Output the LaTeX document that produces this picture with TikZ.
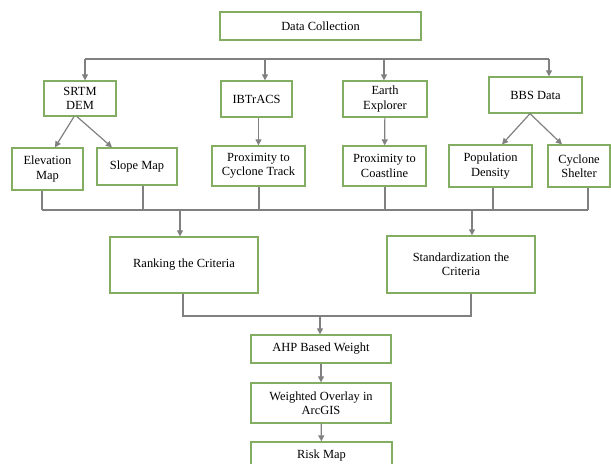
\documentclass[tikz,border=0pt]{standalone}
\usepackage{fontspec}
\setmainfont{Liberation Serif}
\usetikzlibrary{arrows.meta}
\definecolor{boxgreen}{HTML}{82AD62}
\definecolor{linegray}{HTML}{808080}
\tikzset{
  box/.style={shape=rectangle,draw=boxgreen,line width=1.3bp,align=center,inner sep=0pt,
    font=\fontsize{12.5}{14.5}\selectfont},
  link/.style={draw=linegray,color=linegray,line width=1.2bp}
}
\begin{document}
\begin{tikzpicture}[x=1bp,y=-1bp,>={Triangle[length=6bp,width=6bp]}]
  \useasboundingbox (0,0) rectangle (611,464);

  \node[box,minimum width=201bp,minimum height=28bp] (A) at (320.5,26) {Data Collection};

  \node[box,minimum width=72bp,minimum height=35bp] (B) at (80,98.5) {SRTM\\DEM};
  \node[box,minimum width=71bp,minimum height=36bp] (C) at (256.5,99) {IBTrACS};
  \node[box,minimum width=84bp,minimum height=36bp] (D) at (385,99) {Earth\\Explorer};
  \node[box,minimum width=93bp,minimum height=36bp] (E) at (535.5,95) {BBS Data};

  \node[box,minimum width=71bp,minimum height=42bp] (F) at (47.5,169) {Elevation\\Map};
  \node[box,minimum width=80bp,minimum height=37bp] (G) at (137,166.5) {Slope Map};
  \node[box,minimum width=93bp,minimum height=40bp] (H) at (258.5,166) {Proximity to\\Cyclone Track};
  \node[box,minimum width=83bp,minimum height=40bp] (I) at (384.5,166) {Proximity to\\Coastline};
  \node[box,minimum width=83bp,minimum height=42bp] (J) at (490.5,166) {Population\\Density};
  \node[box,minimum width=62bp,minimum height=42bp] (K) at (579,166) {Cyclone\\Shelter};

  \node[box,minimum width=148bp,minimum height=56bp] (L) at (184,265) {Ranking the Criteria};
  \node[box,minimum width=148bp,minimum height=57bp] (M) at (461,264.5) {Standardization the\\Criteria};

  \node[box,minimum width=140bp,minimum height=28bp] (N) at (321,349) {AHP Based Weight};
  \node[box,minimum width=140bp,minimum height=40bp] (O) at (321,403) {Weighted Overlay in\\ArcGIS};
  \node[box,minimum width=141bp,minimum height=28bp] (P) at (321.5,456) {Risk Map};

  \coordinate (TB) at (85,59);
  \coordinate (TC) at (265,59);
  \coordinate (TD) at (384,59);
  \coordinate (TE) at (549,59);
  \draw[link] (TB) -- (TE);
  \draw[link,->] (TB) -- (TB |- B.north);
  \draw[link,->] (TC) -- (TC |- C.north);
  \draw[link,->] (TD) -- (TD |- D.north);
  \draw[link,->] (TE) -- (TE |- E.north);

  \draw[link,->] ([xshift=-6bp]B.south) -- ([xshift=7.5bp]F.north);
  \draw[link,->] ([xshift=-3bp]B.south) -- ([xshift=-25bp]G.north);
  \draw[link,->] (C.south -| H) -- (H);
  \draw[link,->] (D) -- (I);
  \draw[link,->] ([xshift=-5.5bp]E.south) -- ([xshift=11.5bp]J.north);
  \draw[link,->] ([xshift=-5.5bp]E.south) -- ([xshift=-17bp]K.north);

  \coordinate (UF) at (42,210);
  \coordinate (UG) at (143,210);
  \coordinate (UH) at (259,210);
  \coordinate (UI) at (385,210);
  \coordinate (UJ) at (493,210);
  \coordinate (UK) at (588,210);
  \coordinate (UL) at (180,210);
  \coordinate (UM) at (472,210);
  \draw[link] (UF) -- (UK);
  \draw[link] (F.south -| UF) -- (UF);
  \draw[link] (G.south -| UG) -- (UG);
  \draw[link] (H.south -| UH) -- (UH);
  \draw[link] (I.south -| UI) -- (UI);
  \draw[link] (J.south -| UJ) -- (UJ);
  \draw[link] (K.south -| UK) -- (UK);
  \draw[link,->] (UL) -- (UL |- L.north);
  \draw[link,->] (UM) -- (UM |- M.north);

  \coordinate (VL) at (183,316);
  \coordinate (VM) at (471,316);
  \coordinate (VN) at (320,316);
  \draw[link] (L.south -| VL) -- (VL) -- (VM) -- (M.south -| VM);
  \draw[link,->] (VN) -- (VN |- N.north);

  \draw[link,->] (N) -- (O);
  \draw[link,->] (O) -- (P);
\end{tikzpicture}
\end{document}
